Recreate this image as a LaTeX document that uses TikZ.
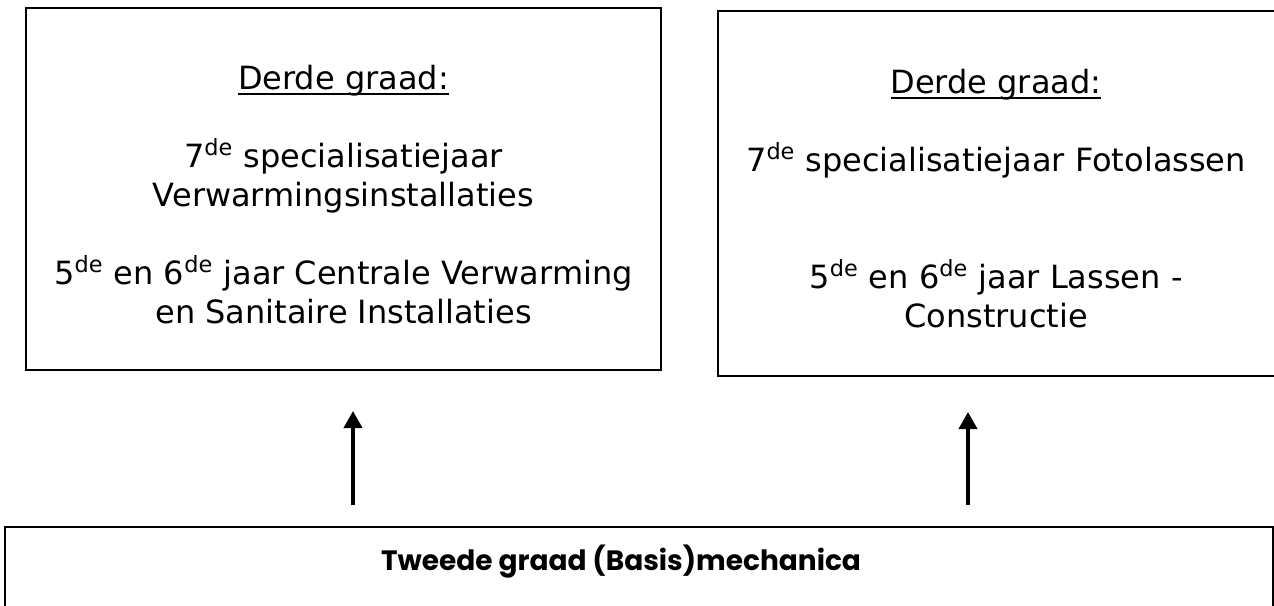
\documentclass[tikz,border=0pt]{standalone}
\usepackage{fontspec}
\setmainfont{DejaVu Sans}
\newfontfamily\kopfont{Poppins}
\usetikzlibrary{arrows.meta}
\newcommand\onderstreep[1]{\setbox0\hbox{#1}\rlap{\rule[-2.5pt]{\wd0}{0.9pt}}\box0}

\begin{document}
\begin{tikzpicture}[x=0.5pt,y=-0.5pt,
  vak/.style={draw,line width=1.1pt,rectangle,inner sep=0pt},
  tekst/.style={align=center,anchor=north,inner sep=0pt,font=\fontsize{16pt}{19.5pt}\selectfont},
  pijl/.style={line width=1.9pt,-{Triangle[width=9pt,length=8.5pt]}}]
\useasboundingbox (0,0) rectangle (1274,605);
\clip (0,0) rectangle (1274,605);

% de drie kaders
\node [vak,minimum width=317.5pt,minimum height=181pt] (links) at (343.5,189) {};
\node [vak,minimum width=279pt,minimum height=182.5pt] (rechts) at (997,193.5) {};
\node [vak,minimum width=634pt,minimum height=76.5pt] (basis) at (639,603.5) {};

\node [tekst] (linkstekst) at (343.5,65) {\onderstreep{Derde graad:}\\[19.5pt]
  7\textsuperscript{de} specialisatiejaar\\
  Verwarmingsinstallaties\\[19.5pt]
  5\textsuperscript{de} en 6\textsuperscript{de} jaar Centrale Verwarming\\
  en Sanitaire Installaties};
\node [tekst] (rechtstekst) at (996,69) {\onderstreep{Derde graad:}\\[19.5pt]
  7\textsuperscript{de} specialisatiejaar Fotolassen\\[39pt]
  5\textsuperscript{de} en 6\textsuperscript{de} jaar Lassen -\\
  Constructie};
\node [anchor=base,inner sep=0pt,font=\kopfont\bfseries\fontsize{14pt}{17pt}\selectfont] (basistekst) at (621,570) {Tweede graad (Basis)mechanica};

% pijlen
\coordinate (van1) at (353,505);
\coordinate (naar1) at (353,411);
\coordinate (van2) at (968,505);
\coordinate (naar2) at (968,412);
\draw [pijl] (van1) -- (naar1);
\draw [pijl] (van2) -- (naar2);
\end{tikzpicture}
\end{document}
